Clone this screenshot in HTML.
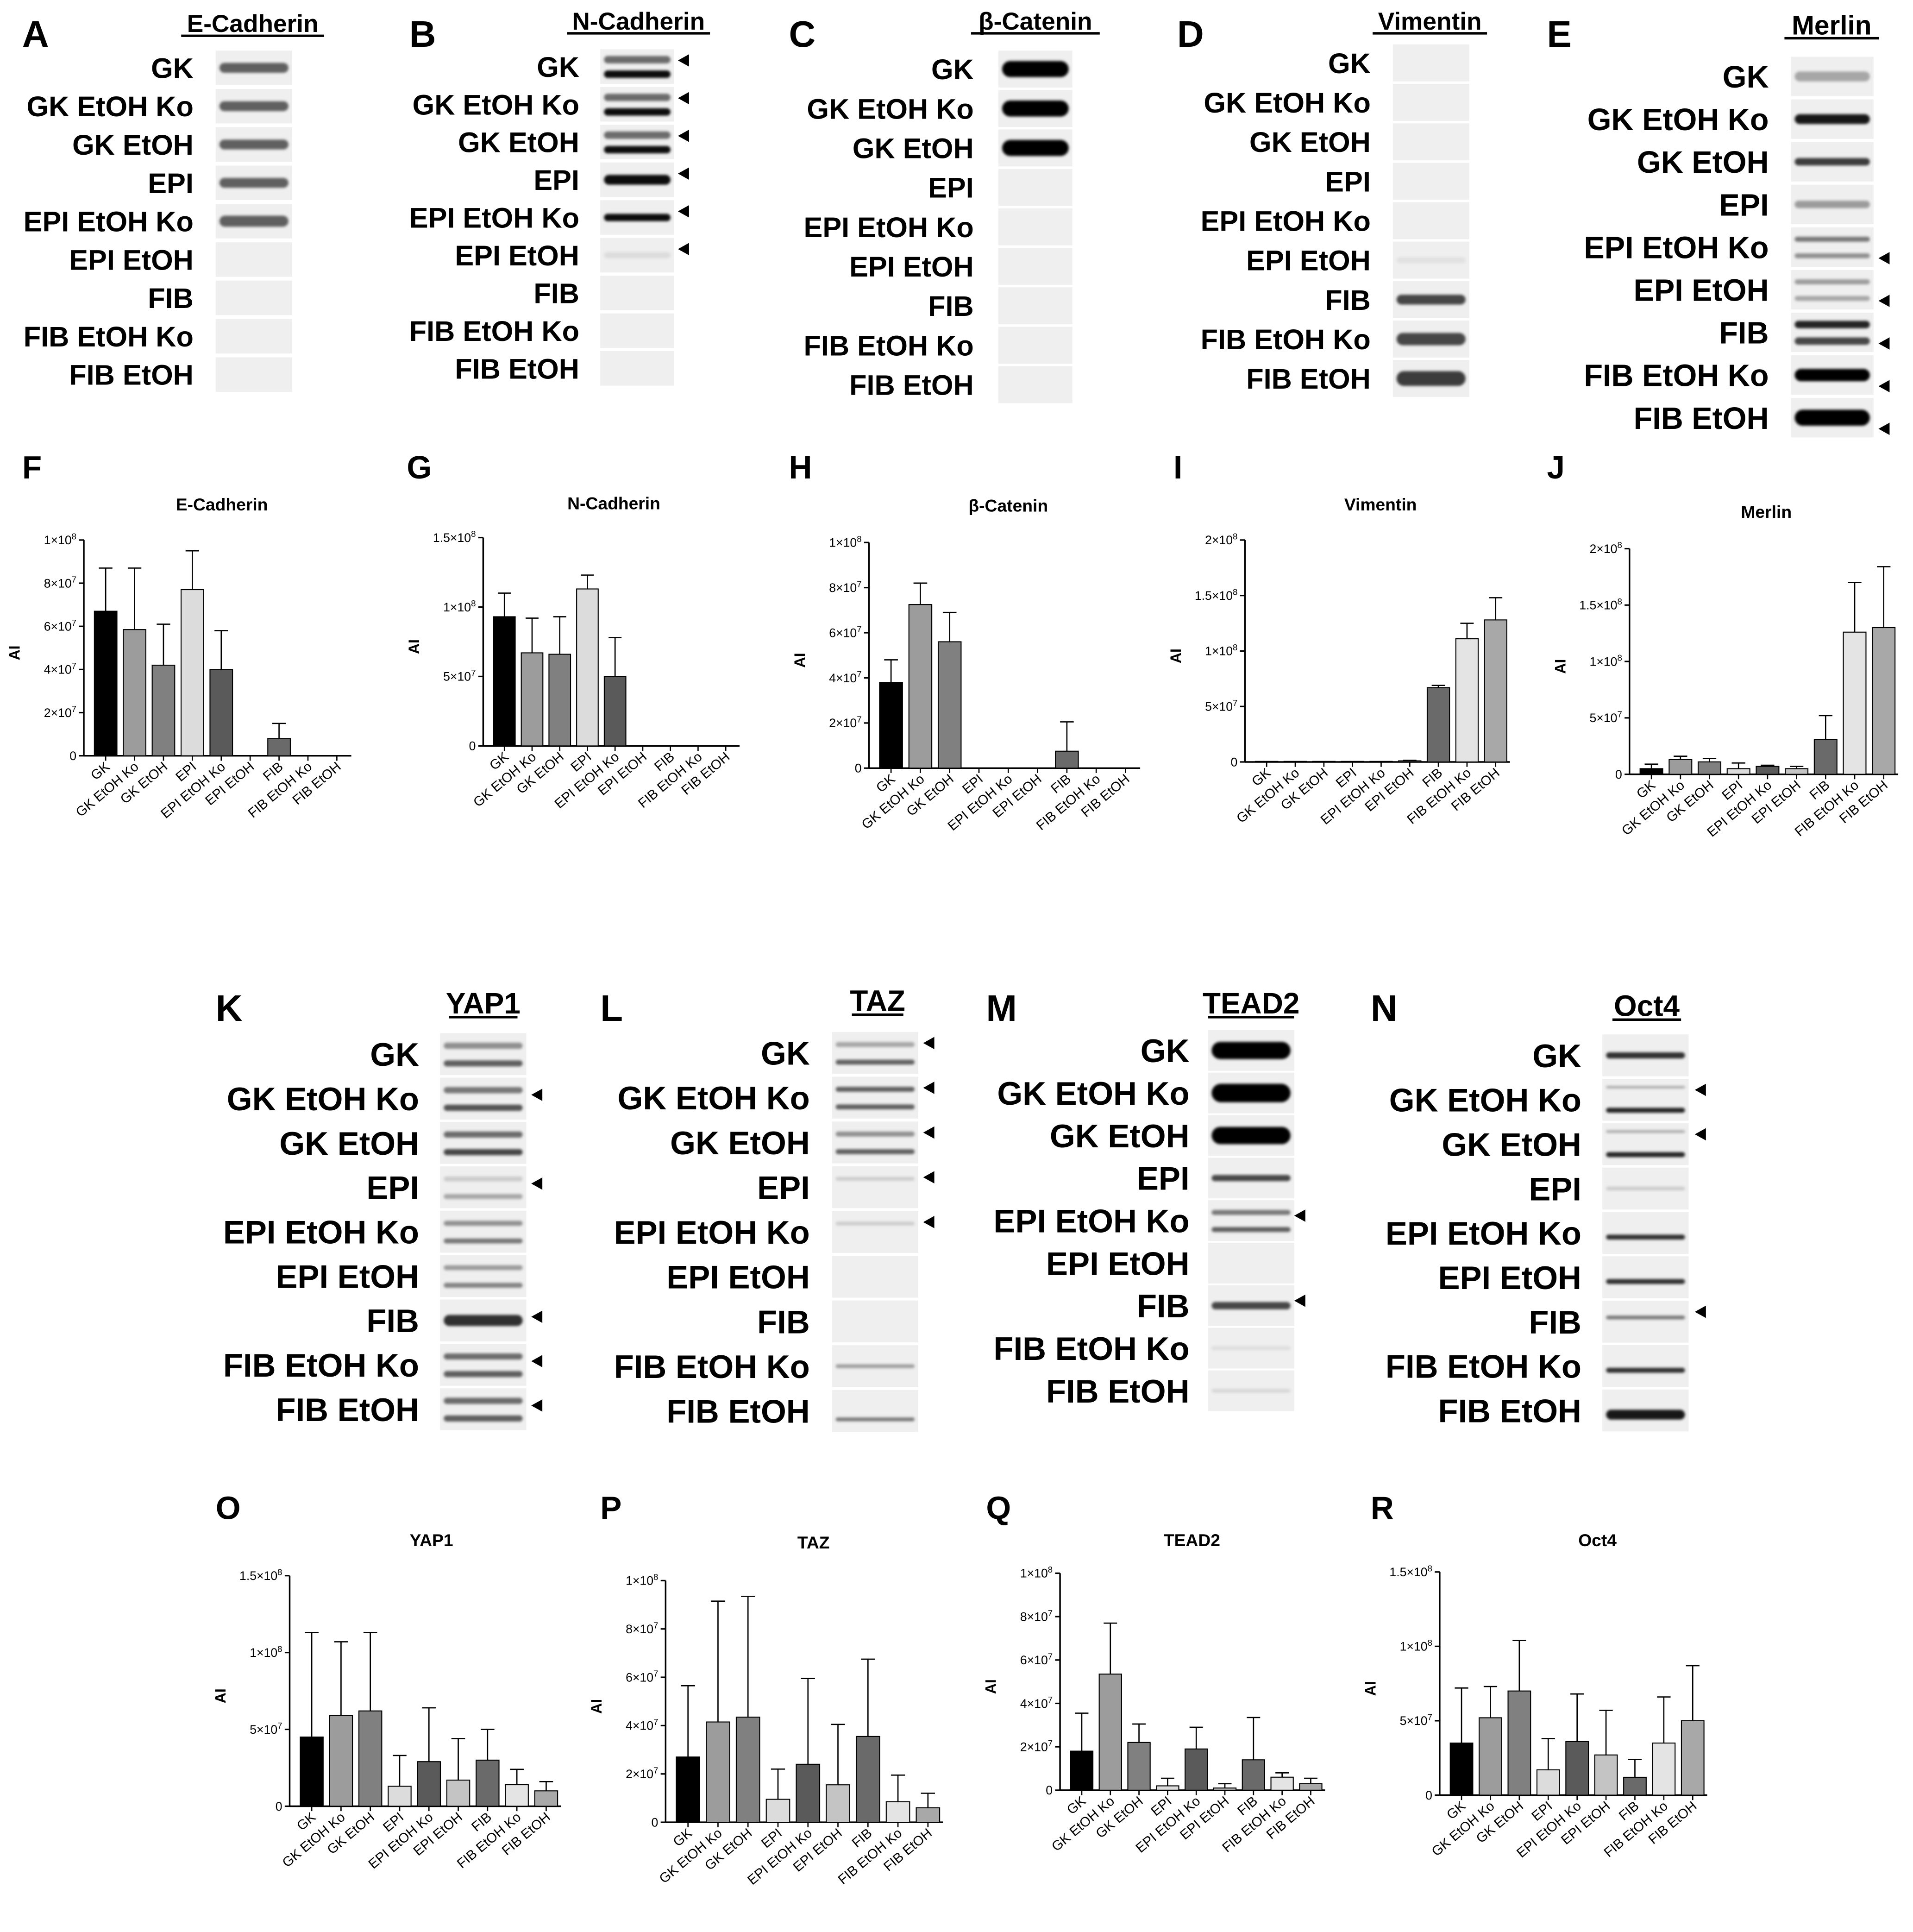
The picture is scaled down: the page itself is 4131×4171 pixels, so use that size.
<!DOCTYPE html>
<html><head><meta charset="utf-8">
<style>
html,body{margin:0;padding:0;background:#fff;}
svg{display:block;font-family:"Liberation Sans",Arial,sans-serif;}
</style></head>
<body>
<svg id="fig" xmlns="http://www.w3.org/2000/svg" width="4131" height="4171" viewBox="0 0 1552 1567">
<defs><filter id="blur" x="-10%" y="-100%" width="120%" height="300%"><feGaussianBlur stdDeviation="1.1"/></filter></defs>
<rect width="1552" height="1567" fill="#fff"/>
</svg>
<script>
// ===== chart data =====
const categories = ["GK","GK EtOH Ko","GK EtOH","EPI","EPI EtOH Ko","EPI EtOH","FIB","FIB EtOH Ko","FIB EtOH"];
const barColors = ["#000000","#9c9c9c","#808080","#dcdcdc","#5a5a5a","#c4c4c4","#6a6a6a","#e4e4e4","#a8a8a8"];
const ticks1e8 = [0,2e7,4e7,6e7,8e7,1e8];
const ticks15 = [0,5e7,1e8,1.5e8];
const ticks2 = [0,5e7,1e8,1.5e8,2e8];
const fValues = [6.7e7,5.85e7,4.2e7,7.7e7,4.0e7,0,0.8e7,0,0];
const fErrors = [8.7e7,8.7e7,6.1e7,9.5e7,5.8e7,0,1.5e7,0,0];
const gValues = [9.3e7,6.7e7,6.6e7,11.3e7,5.0e7,0,0,0,0];
const gErrors = [11e7,9.2e7,9.3e7,12.3e7,7.8e7,0,0,0,0];
const hValues = [3.8e7,7.25e7,5.6e7,0,0,0,0.75e7,0,0];
const hErrors = [4.8e7,8.2e7,6.9e7,0,0,0,2.05e7,0,0];
const iValues = [0.05e7,0.05e7,0.05e7,0.05e7,0.05e7,0.1e7,6.7e7,11.1e7,12.8e7];
const iErrors = [0.05e7,0.05e7,0.05e7,0.05e7,0.05e7,0.15e7,6.9e7,12.5e7,14.8e7];
const jValues = [0.5e7,1.3e7,1.1e7,0.5e7,0.7e7,0.5e7,3.1e7,12.6e7,13e7];
const jErrors = [0.9e7,1.6e7,1.4e7,1.0e7,0.8e7,0.7e7,5.2e7,17e7,18.4e7];
const oValues = [4.5e7,5.9e7,6.2e7,1.3e7,2.9e7,1.7e7,3.0e7,1.4e7,1.0e7];
const oErrors = [11.3e7,10.7e7,11.3e7,3.3e7,6.4e7,4.4e7,5.0e7,2.4e7,1.6e7];
const pValues = [2.7e7,4.15e7,4.35e7,0.95e7,2.4e7,1.55e7,3.55e7,0.85e7,0.6e7];
const pErrors = [5.65e7,9.15e7,9.35e7,2.2e7,5.95e7,4.05e7,6.75e7,1.95e7,1.2e7];
const qValues = [1.8e7,5.35e7,2.2e7,0.2e7,1.9e7,0.1e7,1.4e7,0.6e7,0.3e7];
const qErrors = [3.55e7,7.7e7,3.05e7,0.55e7,2.9e7,0.3e7,3.35e7,0.8e7,0.55e7];
const rValues = [3.5e7,5.2e7,7.0e7,1.7e7,3.6e7,2.7e7,1.2e7,3.5e7,5.0e7];
const rErrors = [7.2e7,7.3e7,10.4e7,3.8e7,6.8e7,5.7e7,2.4e7,6.6e7,8.7e7];

const NS="http://www.w3.org/2000/svg";
const svg=document.getElementById('fig');
function mk(tag,attrs,parent){const e=document.createElementNS(NS,tag);for(const k in attrs)e.setAttribute(k,attrs[k]);(parent||svg).appendChild(e);return e;}
function txt(s,attrs,parent){const e=mk('text',attrs,parent);e.textContent=s;return e;}

function fmtTick(v,g,x,y){
  const t=mk('text',{x:x,y:y,'text-anchor':'end','font-size':10,fill:'#000'},g);
  
  
  if(v===0){t.textContent='0';return;}
  const e=Math.floor(Math.log10(v)+1e-9);const m=+(v/Math.pow(10,e)).toFixed(2);
  const a=document.createElementNS(NS,'tspan');a.textContent=m+'×10';t.appendChild(a);
  const b=document.createElementNS(NS,'tspan');b.textContent=String(e);b.setAttribute('font-size',7);b.setAttribute('dy',-4);t.appendChild(b);
}

function chart(id,letter,title,lx,ly,ax,ytop,ybot,xend,ymax,ticks,vals,errs,titleX,titleY){
  const g=mk('g',{});
  
  
  const L=txt(letter,{x:lx,y:ly,'font-size':26,'font-weight':'bold'},g);
  
  
  const T=txt(title,{x:titleX,y:titleY,'text-anchor':'middle','font-size':14,'font-weight':'bold'},g);
  
  
  const yS=v=>ybot-(v/ymax)*(ybot-ytop);
  const band=(xend-ax-6)/9;
  const xC=i=>ax+6+band*(i+0.5);
  const ya=mk('line',{x1:ax,y1:ytop,x2:ax,y2:ybot,stroke:'#000','stroke-width':1.3},g);
  
  
  const xa=mk('line',{x1:ax,y1:ybot,x2:xend,y2:ybot,stroke:'#000','stroke-width':1.3},g);
  
  
  ticks.forEach(v=>{
    const y=yS(v);
    mk('line',{x1:ax-4,y1:y,x2:ax,y2:y,stroke:'#000','stroke-width':1.2},g);
    fmtTick(v,g,ax-6,y+3.5);
  });
  const yl=txt('AI',{x:0,y:0,'font-size':12,'font-weight':'bold',transform:`translate(${ax-52},${(ytop+ybot)/2+4}) rotate(-90)`,'text-anchor':'middle'},g);
  
  
  const bw=band*0.78;
  vals.forEach((v,i)=>{
    const x=xC(i);
    const e=errs[i];
    if(e>v){
      const ln=mk('line',{x1:x,y1:yS(v),x2:x,y2:yS(e),stroke:'#000','stroke-width':1},g);
      
      
      const cap=mk('line',{x1:x-bw*0.3,y1:yS(e),x2:x+bw*0.3,y2:yS(e),stroke:'#000','stroke-width':1},g);
      
      
    }
    const r=mk('rect',{x:x-bw/2,y:yS(v),width:bw,height:Math.max(0,ybot-yS(v)),fill:barColors[i],stroke:'#000','stroke-width':0.8},g);
    
    
    mk('line',{x1:x,y1:ybot,x2:x,y2:ybot+4,stroke:'#000','stroke-width':1},g);
    const lb=txt(categories[i],{x:0,y:0,'font-size':11,'text-anchor':'end',transform:`translate(${x+4},${ybot+10}) rotate(-40)`},g);
    
    
  });
}

chart('e-cadherin','F','E-Cadherin',18,388,68,438,613,285,1e8,ticks1e8,fValues,fErrors,180,414);
chart('n-cadherin','G','N-Cadherin',330,388,392,436,605,600,1.5e8,ticks15,gValues,gErrors,498,413);
chart('b-catenin','H','β-Catenin',640,388,705,440,623,925,1e8,ticks1e8,hValues,hErrors,818,415);
chart('vimentin','I','Vimentin',952,388,1010,438,618,1225,2e8,ticks2,iValues,iErrors,1120,414);
chart('merlin','J','Merlin',1255,388,1322,445,628,1540,2e8,ticks2,jValues,jErrors,1433,420);
chart('yap1','O','YAP1',175,1232,235,1278,1465,455,1.5e8,ticks15,oValues,oErrors,350,1254);
chart('taz','P','TAZ',487,1232,540,1282,1478,765,1e8,ticks1e8,pValues,pErrors,660,1256);
chart('tead2','Q','TEAD2',800,1232,860,1276,1452,1075,1e8,ticks1e8,qValues,qErrors,967,1254);
chart('oct4','R','Oct4',1112,1232,1168,1275,1456,1385,1.5e8,ticks15,rValues,rErrors,1296,1254);

// ===== blots =====
function blot(id,letter,title,lx,ly,tx,ty,labX,rows,bx,bw,ch,fs,tfs,bands,arrows,arX,arDy){
  const g=mk('g',{});
  
  
  const L=txt(letter,{x:lx,y:ly,'font-size':30,'font-weight':'bold'},g);
  
  
  const T=txt(title,{x:tx,y:ty,'text-anchor':'middle','font-size':tfs,'font-weight':'bold'},g);
  
  
  const tw=title.length*tfs*0.58;
  mk('line',{x1:tx-tw/2,y1:ty+3,x2:tx+tw/2,y2:ty+3,stroke:'#000','stroke-width':2},g);
  rows.forEach((ry,i)=>{
    const lb=txt(categories[i],{x:labX,y:ry+fs*0.36,'text-anchor':'end','font-size':fs,'font-weight':'bold'},g);
    
    
    const top=ry-ch/2;
    const c=mk('rect',{x:bx,y:top,width:bw,height:ch,fill:'#efefef'},g);
    
    
    (bands[i]||[]).forEach(b=>{
      mk('rect',{x:bx+3,y:top+ch*b[0]-b[2]/2,width:bw-6,height:b[2],rx:b[2]/2,fill:'#000','fill-opacity':b[1],filter:'url(#blur)'},g);
    });
    if(arrows.includes(i)){
      const c0=ry+arDy;
      const a=mk('polygon',{points:`${arX},${c0} ${arX+9},${c0-5} ${arX+9},${c0+5}`,fill:'#000'},g);
      
      
    }
  });
}
const sp=(s,n,d)=>Array.from({length:n},(_,i)=>s+i*d);
const one=(o,t)=>[[0.5,o,t]];
const two=(o1,o2,t)=>[[0.3,o1,t],[0.72,o2,t]];
blot('e-cadherin','A','E-Cadherin',18,38,205,26,157,sp(55,9,31.1),175,62,28,23,20,
 [one(.6,8),one(.6,8),one(.6,8),one(.6,8),one(.6,9),[],[],[],[]],[],0,0);
blot('n-cadherin','B','N-Cadherin',332,38,518,24,470,sp(54,9,30.6),487,60,28,23,20,
 [two(.55,.95,6),two(.55,.95,6),two(.55,.95,6),one(.95,8),one(.95,6),one(.08,5),[],[],[]],[0,1,2,3,4,5],550,-5);
blot('b-catenin','C','β-Catenin',640,38,840,24,790,sp(56,9,32),810,60,30,23,20,
 [one(1,13),one(1,13),one(1,13),[],[],[],[],[],[]],[],0,0);
blot('vimentin','D','Vimentin',955,38,1160,24,1112,sp(51,9,32),1130,62,30,23,20,
 [[],[],[],[],[],one(.06,5),one(.7,8),one(.7,10),one(.75,12)],[],0,0);
blot('merlin','E','Merlin',1255,38,1486,28,1435,sp(62,9,34.6),1453,67,32,25,22,
 [one(.3,8),one(.9,8),one(.75,6),one(.35,6),two(.5,.4,4),two(.35,.3,4),two(.85,.7,6),one(1,10),one(1,13)],[4,5,6,7,8],1524,9);
blot('yap1','K','YAP1',175,828,392,822,340,sp(855,9,36),357,70,34,26.5,24,
 [two(.4,.6,5),two(.5,.65,5),two(.55,.7,5),two(.15,.3,4),two(.4,.5,4),two(.35,.45,4),one(.8,9),two(.55,.6,5),two(.55,.6,5)],[1,3,6,7,8],431,-3);
blot('taz','L','TAZ',487,828,712,820,657,sp(854,9,36.3),675,70,34,26.5,24,
 [two(.3,.6,4),two(.6,.6,4),two(.4,.6,4),[[0.3,.15,3]],[[0.3,.15,3]],[],[],one(.35,3),[[0.7,.5,3]]],[0,1,2,3,4],749,-8);
blot('tead2','M','TEAD2',800,828,1015,822,965,sp(852,9,34.5),980,70,33,26.5,24,
 [one(1,14),one(1,15),one(1,14),one(.7,5),two(.5,.6,4),[],one(.7,6),one(.08,3),one(.1,3)],[4,6],1050,-4);
blot('oct4','N','Oct4',1112,828,1336,824,1283,sp(856,9,36),1300,70,34,26.5,24,
 [one(.8,5),[[0.2,.3,2],[0.75,.85,4]],[[0.2,.3,2],[0.75,.85,4]],one(.15,3),[[0.6,.8,4]],[[0.6,.8,4]],[[0.4,.5,3]],[[0.6,.8,4]],[[0.6,.9,8]]],[1,2,6],1375,-8);
</script>
</body></html>
